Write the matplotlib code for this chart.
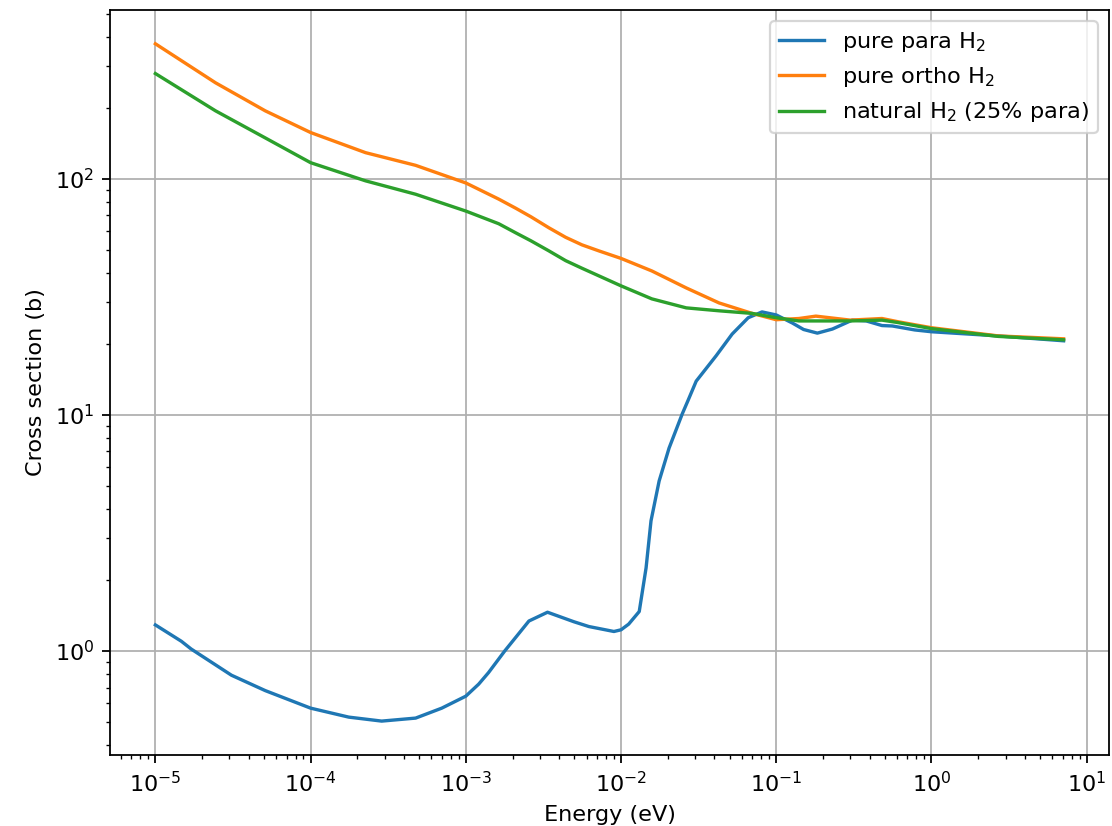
import matplotlib
matplotlib.use("Agg")
from matplotlib import pyplot as plt

# energies (eV) and cross sections (b)
energy_para = [1e-5, 1.47e-5, 1.7e-5, 3.09e-5, 5.1e-5, 1e-4, 1.76e-4, 2.87e-4,
               4.75e-4, 7.0e-4, 1e-3, 1.21e-3, 1.4e-3, 1.78e-3, 2.55e-3, 3.36e-3,
               4.98e-3, 6.2e-3, 9e-3, 1e-2, 1.12e-2, 1.31e-2, 1.45e-2, 1.56e-2,
               1.76e-2, 2.04e-2, 2.48e-2, 2.7e-2, 3.05e-2, 4.1e-2, 5.2e-2,
               6.6e-2, 8.1e-2, 0.1, 0.127, 0.15, 0.184, 0.23, 0.309, 0.38,
               0.48, 0.56, 0.78, 1.0, 2.7, 7.1]
sigma_para = [1.29, 1.1, 1.02, 0.79, 0.68, 0.573, 0.525, 0.505,
              0.52, 0.573, 0.644, 0.724, 0.81, 1.0, 1.34, 1.46,
              1.33, 1.27, 1.21, 1.23, 1.3, 1.47, 2.25, 3.56,
              5.25, 7.24, 10.1, 11.5, 13.9, 17.8, 22.0,
              25.8, 27.3, 26.5, 24.5, 23.0, 22.2, 23.1, 25.2, 25.0,
              23.9, 23.8, 22.9, 22.5, 21.6, 20.6]

energy_mix = [1e-5, 2.44e-5, 5.1e-5, 1e-4, 2.26e-4, 4.75e-4, 1e-3, 1.63e-3,
              2.1e-3, 2.63e-3, 3.43e-3, 4.4e-3, 5.6e-3, 7.2e-3, 1e-2, 1.58e-2,
              2.63e-2, 4.28e-2, 7.0e-2, 0.1, 0.14, 0.18, 0.3, 0.48, 0.61,
              1.0, 2.7, 7.1]
sigma_ortho = [373, 255, 194, 157, 129, 114, 96, 82,
               75, 69, 62, 56.5, 52.5, 49.5, 46, 40.7,
               34.5, 29.8, 26.9, 25.3, 25.6, 26.2, 25.2, 25.6, 24.8,
               23.4, 21.6, 21.0]
sigma_natural = [279, 194, 149, 117, 98, 86, 73, 64.5,
                 59, 54.6, 49.5, 45, 41.8, 38.8, 35.2, 31,
                 28.4, 27.6, 26.9, 25.8, 25.0, 25.0, 25.0, 25.2, 24.6,
                 23.2, 21.5, 20.8]

labels = ['pure para H$_2$', 'pure ortho H$_2$', 'natural H$_2$ (25% para)']

fig = plt.figure(figsize=(1112 / 161, 826 / 161), dpi=161)
ax = fig.add_axes([0.0989, 0.086, 0.8984, 0.902])

ax.plot(energy_para, sigma_para, label=labels[0])
ax.plot(energy_mix, sigma_ortho, label=labels[1])
ax.plot(energy_mix, sigma_natural, label=labels[2])

ax.set_xscale('log')
ax.set_yscale('log')
ax.set_xlabel('Energy (eV)')
ax.set_ylabel('Cross section (b)')
ax.grid(True)
ax.legend(loc='upper right')

fig.savefig('out.png', dpi=161)
